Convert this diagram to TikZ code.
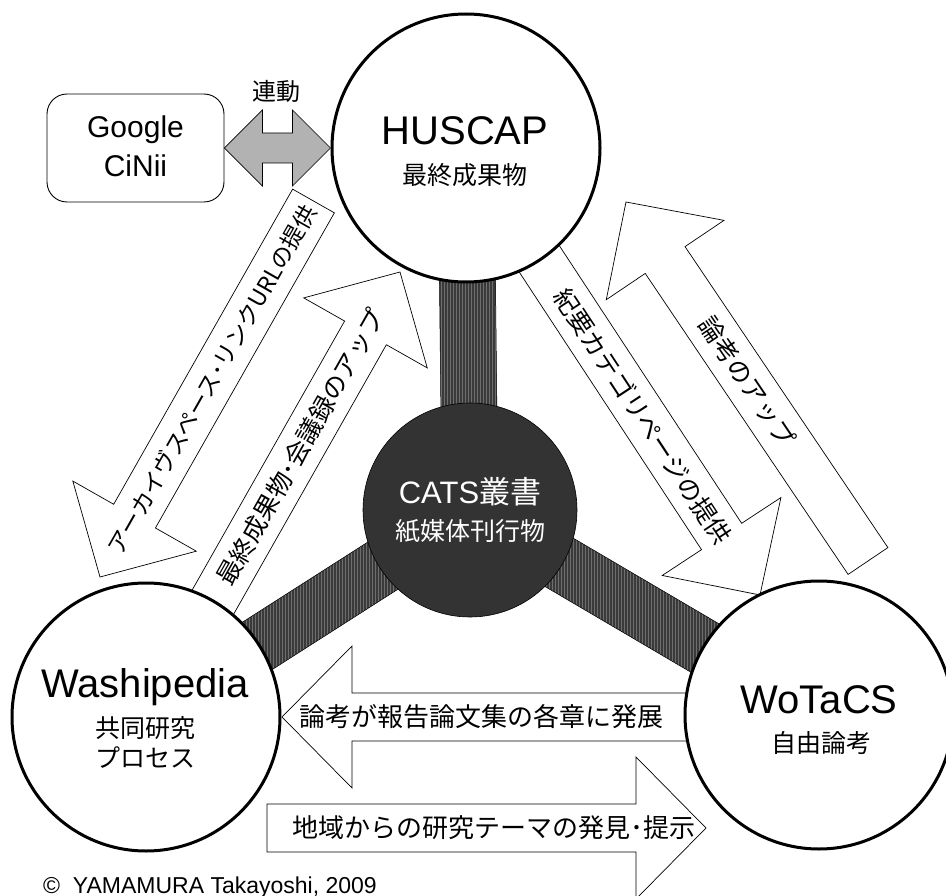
\documentclass[tikz,border=0pt]{standalone}
\usepackage{fontspec}
\setmainfont{Liberation Sans}
\newfontfamily\jp{Noto Sans CJK JP}
\usetikzlibrary{calc,patterns}
\definecolor{catsgray}{RGB}{51,51,51}
\definecolor{bardark}{RGB}{58,58,58}
\definecolor{barlight}{RGB}{110,110,110}
\definecolor{arrowgray}{RGB}{178,178,178}
\newcommand\linkbar[2]{%
  \path[stripebar] ($(#1)!28pt!90:(#2)$) -- ($(#2)!28pt!-90:(#1)$) -- ($(#2)!28pt!90:(#1)$) -- ($(#1)!28pt!-90:(#2)$) -- cycle;}
\newcommand\blockarr[2]{%
  \coordinate (#1m) at ($(#2)!70pt!(#1)$);
  \draw[blockarrow] ($(#1)!24pt!90:(#2)$) -- ($(#1m)!24pt!90:(#2)$) -- ($(#1m)!71pt!90:(#2)$) -- (#2)
    -- ($(#1m)!71pt!-90:(#2)$) -- ($(#1m)!24pt!-90:(#2)$) -- ($(#1)!24pt!-90:(#2)$) -- cycle;}
\begin{document}
\begin{tikzpicture}[x=1pt,y=-1pt,
  bigcircle/.style={circle, draw=black, line width=3pt, fill=white, minimum size=268pt, inner sep=0pt},
  catscircle/.style={circle, draw=black, line width=0.6pt, fill=catsgray, minimum size=214pt, inner sep=0pt},
  stripebar/.style={preaction={fill=bardark}, pattern=vertical lines, pattern color=barlight, draw=black, line width=0.5pt},
  blockarrow/.style={draw=black, line width=0.7pt, fill=white},
  dblarrow/.style={draw=black, line width=0.7pt, fill=arrowgray},
  roundbox/.style={draw=black, line width=0.9pt, rounded corners=20pt, minimum width=177pt, minimum height=108pt, fill=white},
  diagtext/.style={inner sep=0pt, font=\jp\fontsize{25}{25}\selectfont},
  htext/.style={inner sep=0pt, font=\jp\fontsize{26}{26}\selectfont},
  bigname/.style={inner sep=0pt, anchor=base, font=\fontsize{40}{40}\selectfont},
  subname/.style={inner sep=0pt, font=\jp\fontsize{25}{25}\selectfont},
]
\useasboundingbox (0,0) rectangle (946,896);
% centres
\coordinate (husc) at (466,148);
\coordinate (catsc) at (470,510);
\coordinate (washic) at (146,717);
\coordinate (wotc) at (819,715);
% striped links
\linkbar{catsc}{husc}
\linkbar{catsc}{washic}
\linkbar{catsc}{wotc}
% diagonal block arrows
\coordinate (atail) at (313.5,201);
\coordinate (atip) at (100,577);
\coordinate (btail) at (209,609);
\coordinate (btip) at (400,272);
\coordinate (ctail) at (534.5,251.6);
\coordinate (ctip) at (760,595);
\coordinate (dtail) at (868,561);
\coordinate (dtip) at (626,202);
\blockarr{atail}{atip}
\blockarr{btail}{btip}
\blockarr{ctail}{ctip}
\blockarr{dtail}{dtip}
% horizontal block arrows
\coordinate (etail) at (700,717);
\coordinate (etip) at (282,717);
\coordinate (ftail) at (267,828);
\coordinate (ftip) at (706,828);
\blockarr{etail}{etip}
\blockarr{ftail}{ftip}
% circles
\node[bigcircle] (hus) at (husc) {};
\node[bigcircle] (washi) at (washic) {};
\node[bigcircle] (wot) at (wotc) {};
\node[catscircle] (cats) at (catsc) {};
% Google / CiNii box and double arrow
\node[roundbox] (google) at (135.5,148) {};
\draw[dblarrow] (google.east) -- ($(google.east)+(38,-38)$) -- ($(google.east)+(38,-15)$)
  -- ($(hus.west)+(-38,-15)$) -- ($(hus.west)+(-38,-38)$) -- (hus.west)
  -- ($(hus.west)+(-38,38)$) -- ($(hus.west)+(-38,15)$) -- ($(google.east)+(38,15)$)
  -- ($(google.east)+(38,38)$) -- cycle;
\node[inner sep=0pt, anchor=base, font=\fontsize{30}{30}\selectfont] (gtext) at (135.5,138) {Google};
\node[inner sep=0pt, anchor=base, font=\fontsize{30}{30}\selectfont] (ctext) at (135.5,177) {CiNii};
\node[inner sep=0pt, font=\jp\fontsize{24}{24}\selectfont] (rendo) at (276,91) {連動};
% circle labels
\node[bigname] (husname) at (465,145) {HUSCAP};
\node[subname] (hussub) at (465,175) {最終成果物};
\node[inner sep=0pt, anchor=base, text=white, font=\fontsize{31}{31}\selectfont] (catsname) at (470,503) {CATS{\jp 叢書}};
\node[subname, text=white] (catssub) at (470,531) {紙媒体刊行物};
\node[bigname] (washiname) at (145,697) {Washipedia};
\node[subname] (washisub1) at (145,728) {共同研究};
\node[subname] (washisub2) at (145,758) {プロセス};
\node[bigname] (wotname) at (819,713) {WoTaCS};
\node[subname] (wotsub) at (821,743) {自由論考};
% arrow texts
\path (atip) -- node[pos=0.525, sloped, diagtext, font=\jp\fontsize{23}{23}\selectfont] (atext) {アーカイヴスペース･リンクURLの提供} (atail);
\path (btail) -- node[pos=0.48, sloped, diagtext] (btext) {最終成果物･会議録のアップ} (btip);
\path (ctail) -- node[pos=0.48, sloped, diagtext] (ctext2) {紀要カテゴリページの提供} (ctip);
\path (dtip) -- node[pos=0.5, sloped, diagtext] (dtext) {論考のアップ} (dtail);
\node[htext] (etext) at (481,717) {論考が報告論文集の各章に発展};
\node[htext] (ftext) at (494,828) {地域からの研究テーマの発見･提示};
% copyright
\node[inner sep=0pt, anchor=base west, font=\fontsize{23}{23}\selectfont] (copy) at (43,893) {©\ \ YAMAMURA Takayoshi, 2009};
\end{tikzpicture}
\end{document}
